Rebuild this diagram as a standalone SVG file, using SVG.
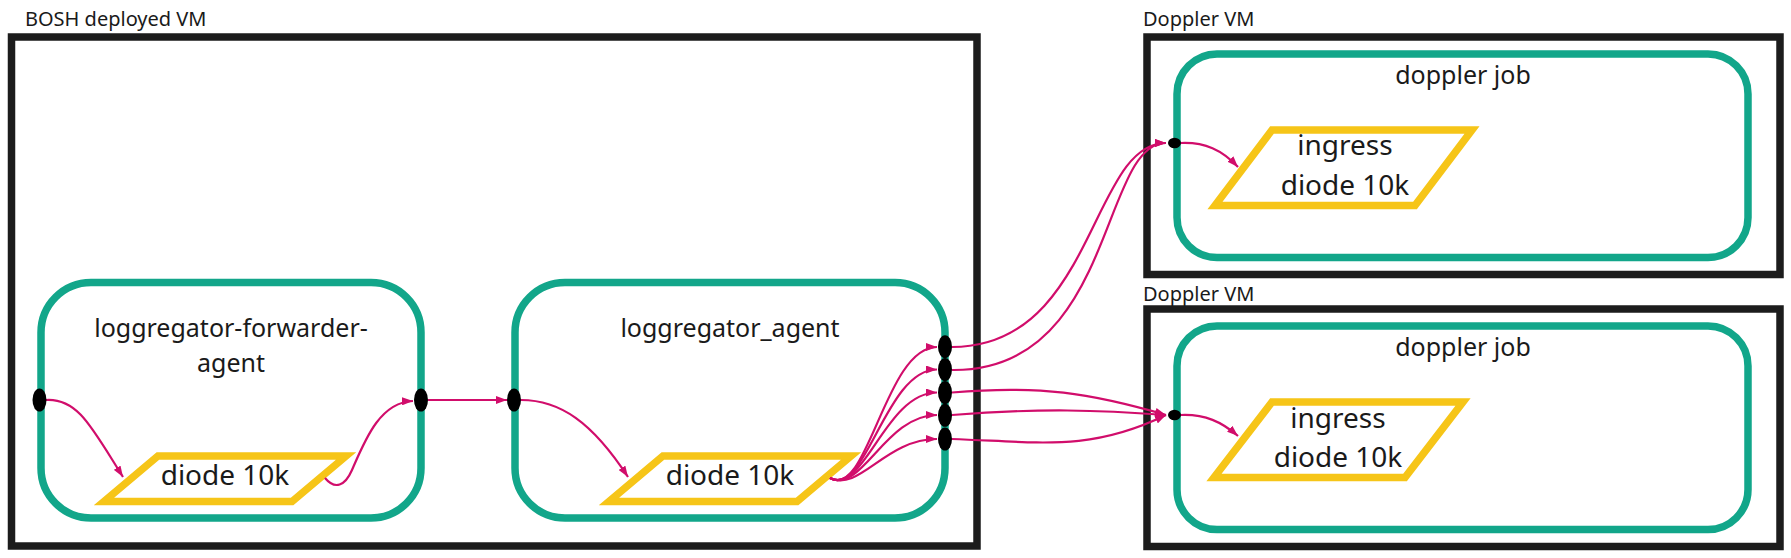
<svg xmlns="http://www.w3.org/2000/svg" width="1791" height="558" viewBox="0 0 1791 558">
<defs>
<style>
.vm{fill:none;stroke:#1c1c1c;stroke-width:7.5}
.job{fill:none;stroke:#12a68a;stroke-width:7.5}
.diode{fill:#fff;stroke:#f6c518;stroke-width:7.5;stroke-linejoin:miter}
.port{fill:#000}
.edge{fill:none;stroke:#d10d6b;stroke-width:2.2;marker-end:url(#arr)}
.vml{font-family:"Noto Sans","Open Sans",sans-serif;font-size:20px;fill:#1a1a1a}
.lbl{font-family:"Noto Sans","Open Sans",sans-serif;font-size:25px;fill:#1a1a1a;text-anchor:middle}
.dt{font-family:"Noto Sans","Open Sans",sans-serif;font-size:28px;fill:#1a1a1a;text-anchor:middle}
</style>
<marker id="arr" markerUnits="userSpaceOnUse" markerWidth="11" markerHeight="8" refX="11" refY="4" orient="auto">
<path d="M0,0 L11,4 L0,8 z" fill="#d10d6b"/>
</marker>
</defs>
<rect width="1791" height="558" fill="#fff"/>

<g id="bosh-vm">
<text class="vml" x="25" y="26">BOSH deployed VM</text>
<rect class="vm" x="11.5" y="37" width="965.5" height="509"/>
</g>
<g id="doppler-vm-1">
<text class="vml" x="1143" y="26">Doppler VM</text>
<rect class="vm" x="1147" y="37" width="633" height="237.5"/>
</g>
<g id="doppler-vm-2">
<text class="vml" x="1143" y="301">Doppler VM</text>
<rect class="vm" x="1147" y="309" width="633" height="237.5"/>
</g>

<g id="forwarder-agent">
<rect class="job" x="41" y="282.5" width="380" height="235.5" rx="50" ry="50"/>
<text class="lbl" x="231" y="337">loggregator-forwarder-</text>
<text class="lbl" x="231" y="372">agent</text>
</g>
<g id="loggregator-agent">
<rect class="job" x="515" y="282.5" width="430" height="235.5" rx="50" ry="50"/>
<text class="lbl" x="730" y="337">loggregator_agent</text>
</g>
<g id="doppler-job-1">
<rect class="job" x="1177" y="54" width="571" height="203.5" rx="40" ry="40"/>
<text class="lbl" x="1463" y="84">doppler job</text>
</g>
<g id="doppler-job-2">
<rect class="job" x="1177" y="326" width="571" height="203.5" rx="40" ry="40"/>
<text class="lbl" x="1463" y="356">doppler job</text>
</g>

<g id="diode-fwd">
<polygon class="diode" points="158,456 346,456 292,501.5 104,501.5"/>
<text class="dt" x="225" y="485">diode 10k</text>
</g>
<g id="diode-agent">
<polygon class="diode" points="663,456 851,456 797,501.5 609,501.5"/>
<text class="dt" x="730" y="485">diode 10k</text>
</g>
<g id="diode-doppler-1">
<polygon class="diode" points="1272,130 1472,130 1415,205.5 1215,205.5"/>
<text class="dt" x="1345" y="155">ingress</text>
<text class="dt" x="1345" y="195">diode 10k</text>
</g>
<g id="diode-doppler-2">
<polygon class="diode" points="1272,402 1463,402 1405,477.5 1214,477.5"/>
<text class="dt" x="1338" y="428">ingress</text>
<text class="dt" x="1338" y="467">diode 10k</text>
</g>

<g id="connectors">
<path class="edge" d="M46,400 C78,398 92,428 123,477"/>
<path class="edge" d="M325,478 C335,490 345,486 352,470 C365,440 380,402 413,401"/>
<path class="edge" d="M428,400 L507,400"/>
<path class="edge" d="M521,400 C560,400 592,422 628,477"/>
<path class="edge" d="M830,478 C868,500 885,347 937,347"/>
<path class="edge" d="M830,478 C866,498 885,369.5 937,369.5"/>
<path class="edge" d="M830,478 C864,496 885,392.5 937,392.5"/>
<path class="edge" d="M830,478 C862,494 885,415 937,415"/>
<path class="edge" d="M830,478 C860,492 885,439 937,439"/>
<path class="edge" d="M952,347 C1095,347 1090,143 1166,143"/>
<path class="edge" d="M952,370 C1115,372 1100,143 1166,143"/>
<path class="edge" d="M952,392.5 C1040,385 1090,393 1166,415"/>
<path class="edge" d="M952,415 C1040,408 1100,410 1166,415"/>
<path class="edge" d="M952,439 C1040,442 1090,452 1166,415"/>
<path class="edge" d="M1181,143 C1205,142 1222,150 1238,167"/>
<path class="edge" d="M1181,415 C1205,414 1222,422 1238,436"/>
</g>

<g id="ports">
<ellipse class="port" cx="39.5" cy="400" rx="7" ry="11.5"/>
<ellipse class="port" cx="421" cy="400" rx="7" ry="11.5"/>
<ellipse class="port" cx="514" cy="400" rx="7" ry="11.5"/>
<ellipse class="port" cx="945" cy="346.7" rx="7" ry="11.5"/>
<ellipse class="port" cx="945" cy="369.5" rx="7" ry="11.5"/>
<ellipse class="port" cx="945" cy="392.5" rx="7" ry="11.5"/>
<ellipse class="port" cx="945" cy="415.3" rx="7" ry="11.5"/>
<ellipse class="port" cx="945" cy="439" rx="7" ry="11.5"/>
<ellipse class="port" cx="1174.5" cy="143" rx="6.5" ry="5.2"/>
<ellipse class="port" cx="1174.5" cy="415" rx="6.5" ry="5.2"/>
</g>
</svg>
